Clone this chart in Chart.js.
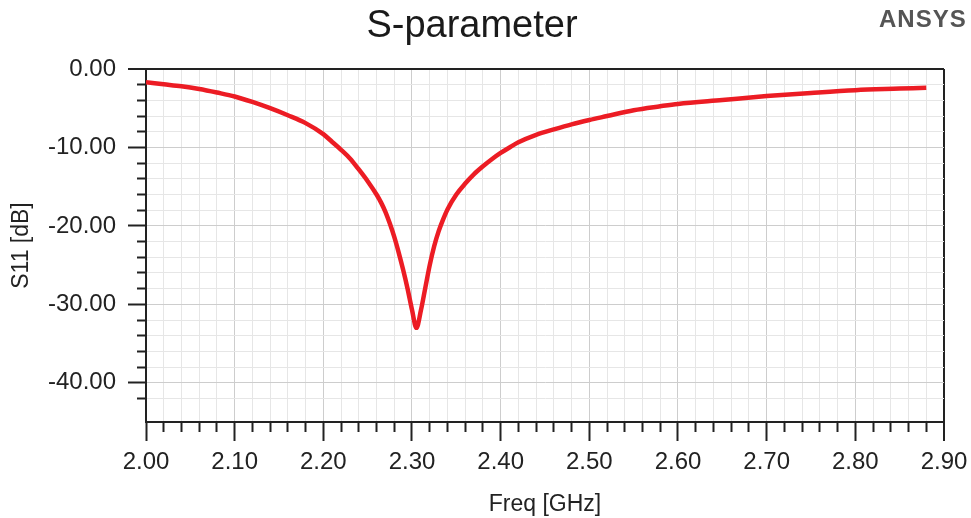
<!doctype html>
<html lang="en">
  <head>
    <meta charset="UTF-8" />
    <title>S-parameter</title>
    <script src="https://cdn.jsdelivr.net/npm/chart.js"></script>
    <style>
      body { margin: 0; background: #fff; }
      #wrap { position: relative; width: 971px; height: 518px; }
      #logo {
        position: absolute; left: 879px; top: 7px;
        font: bold 24px/1 "Liberation Sans", Arial, sans-serif;
        color: #555; letter-spacing: 1px;
      }
    </style>
  </head>
  <body>
    <div id="wrap">
      <canvas id="sChart"></canvas>
      <div id="logo">ANSYS</div>
    </div>

    <script>
      // S11 curve
      const freq = [2.00, 2.02, 2.04, 2.06, 2.08, 2.10, 2.12, 2.14, 2.16, 2.18,
        2.20, 2.21, 2.22, 2.23, 2.24, 2.25, 2.26, 2.265, 2.27, 2.275, 2.28,
        2.285, 2.29, 2.295, 2.30, 2.305, 2.31, 2.315, 2.32, 2.325, 2.33, 2.335,
        2.34, 2.35, 2.36, 2.37, 2.38, 2.39, 2.40, 2.41, 2.42, 2.44, 2.46, 2.48,
        2.50, 2.52, 2.55, 2.58, 2.60, 2.65, 2.70, 2.75, 2.80, 2.85, 2.88];
      const s11 = [-1.7, -1.95, -2.2, -2.55, -3.0, -3.5, -4.2, -5.0, -5.9, -6.9,
        -8.3, -9.3, -10.3, -11.4, -12.8, -14.3, -16.0, -17.0, -18.2, -19.7, -21.4,
        -23.4, -25.6, -28.0, -30.7, -33.0, -30.8, -27.9, -25.0, -22.6, -20.7, -19.2,
        -17.9, -16.0, -14.6, -13.4, -12.4, -11.5, -10.7, -10.0, -9.35, -8.4, -7.7, -7.05,
        -6.5, -6.0, -5.25, -4.75, -4.45, -3.95, -3.45, -3.05, -2.7, -2.5, -2.38];

      // axis ranges / tick spacing
      const xRange = [2.0, 2.9];
      const xMajor = 0.1, xMinor = 0.02;
      const yRange = [-45, 0];
      const yMajor = 10, yMinor = 2;

      const FONT = '"Liberation Sans", Arial, sans-serif';

      function isMajor(v, step) {
        const r = v / step;
        return Math.abs(r - Math.round(r)) < 1e-6;
      }
      function near(a, b) {
        return Math.abs(a - b) < 1e-6;
      }

      const points = freq.map((f, i) => ({ x: f, y: s11[i] }));

      new Chart(document.getElementById("sChart"), {
        type: "line",
        data: {
          datasets: [
            {
              label: "S11",
              data: points,
              borderColor: "#ec1c24",
              borderWidth: 4.5,
              pointRadius: 0,
              cubicInterpolationMode: "monotone",
              borderCapStyle: "butt",
            },
          ],
        },
        options: {
          responsive: true,
          maintainAspectRatio: false,
          animation: false,
          layout: { padding: { left: 0, right: 27, top: 0, bottom: 0 } },
          plugins: {
            legend: { display: false },
            tooltip: { enabled: false },
            title: {
              display: true,
              text: "S-parameter",
              color: "#1a1a1a",
              font: { family: FONT, size: 38, weight: "normal" },
              padding: { top: 4, bottom: 19.4 },
            },
          },
          scales: {
            x: {
              type: "linear",
              min: xRange[0],
              max: xRange[1],
              afterFit: (s) => {
                s.height = 96;
                s.paddingLeft = 0;
                s.paddingRight = 0;
              },
              border: { color: "#222", width: 2 },
              grid: {
                tickLength: 19,
                tickWidth: 2,
                tickColor: "#222",
                color: (c) => {
                  if (!c.tick) return "#e6e6e6";
                  if (near(c.tick.value, xRange[1])) return "#222";
                  return isMajor(c.tick.value, xMajor) ? "#cdcdcd" : "#e6e6e6";
                },
                lineWidth: (c) => (c.tick && near(c.tick.value, xRange[1]) ? 2 : 1),
                tickBorderDash: (c) =>
                  c.tick && isMajor(c.tick.value, xMajor) ? [] : [9, 40],
              },
              ticks: {
                stepSize: xMinor,
                autoSkip: false,
                maxRotation: 0,
                minRotation: 0,
                padding: 7,
                color: "#222",
                font: { family: FONT, size: 24 },
                callback: (v) => (isMajor(v, xMajor) ? v.toFixed(2) : ""),
              },
              title: {
                display: true,
                text: "Freq [GHz]",
                color: "#222",
                font: { family: FONT, size: 23 },
                padding: { top: 0, bottom: 0 },
              },
            },
            y: {
              type: "linear",
              min: yRange[0],
              max: yRange[1],
              afterFit: (s) => { s.width = 146; },
              border: { color: "#222", width: 2 },
              grid: {
                tickLength: 18,
                tickWidth: 2,
                tickColor: (c) =>
                  c.tick && near(c.tick.value, yRange[0]) ? "rgba(0,0,0,0)" : "#222",
                color: (c) => {
                  if (!c.tick) return "#e6e6e6";
                  if (near(c.tick.value, yRange[1])) return "#222";
                  return isMajor(c.tick.value, yMajor) ? "#cdcdcd" : "#e6e6e6";
                },
                lineWidth: (c) => (c.tick && near(c.tick.value, yRange[1]) ? 2 : 1),
                tickBorderDash: (c) =>
                  c.tick && isMajor(c.tick.value, yMajor) ? [] : [0, 9, 8, 40],
              },
              ticks: {
                stepSize: yMinor,
                autoSkip: false,
                padding: 12,
                color: "#222",
                font: { family: FONT, size: 24 },
                callback: (v) => (isMajor(v, yMajor) ? v.toFixed(2) : ""),
              },
              title: {
                display: true,
                text: "S11 [dB]",
                color: "#222",
                font: { family: FONT, size: 23 },
                padding: { top: 8, bottom: 0 },
              },
            },
          },
        },
      });
    </script>
  </body>
</html>
